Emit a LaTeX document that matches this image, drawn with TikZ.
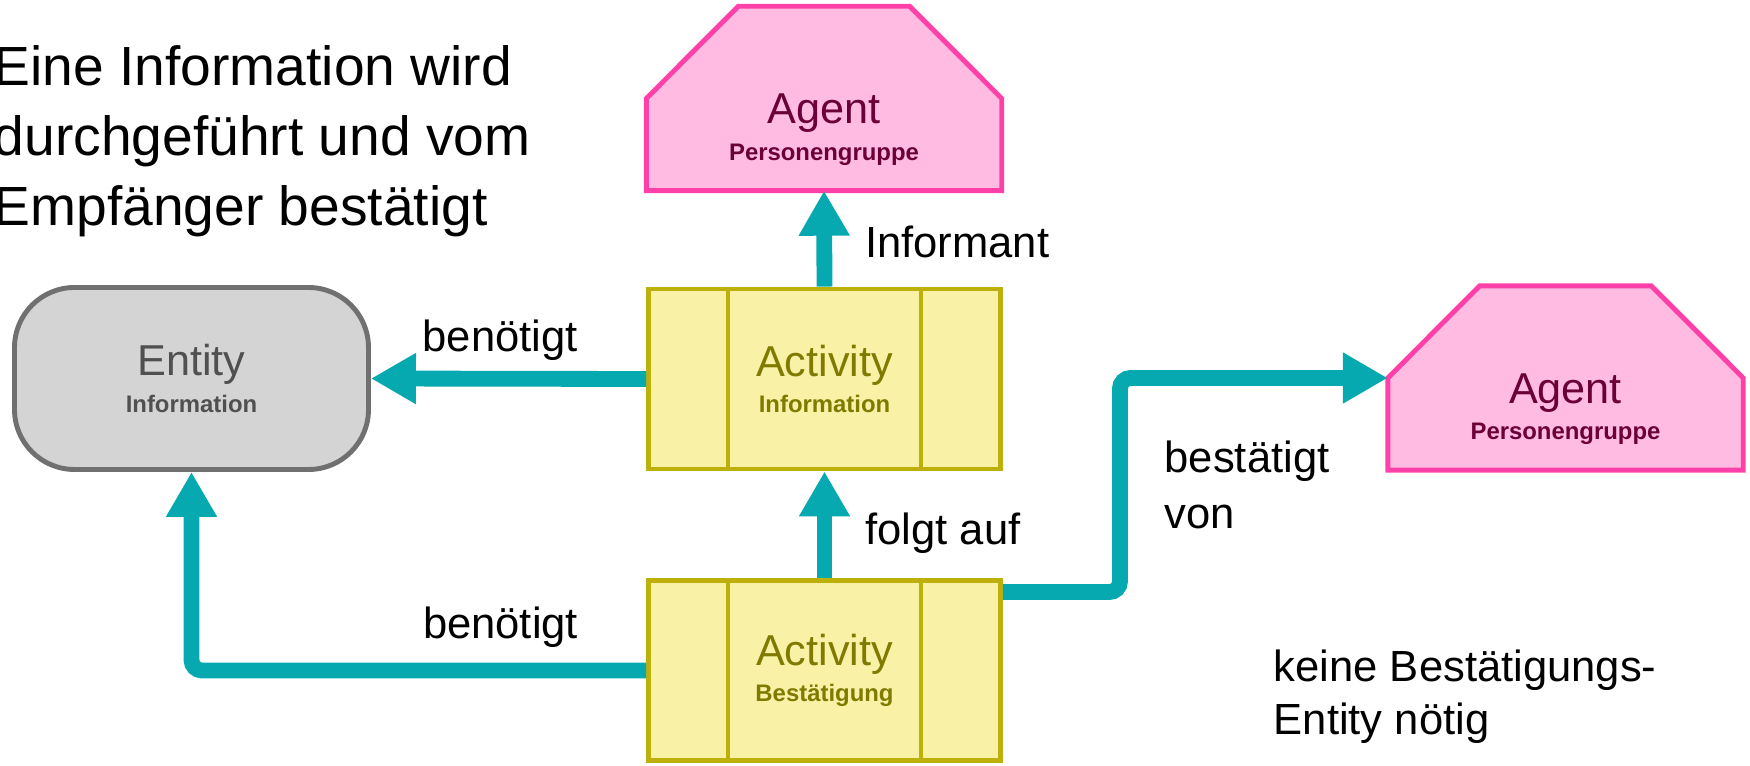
\documentclass[tikz,border=0pt]{standalone}
\usepackage{fontspec}
\setmainfont{Liberation Sans}
\usepackage{tikz}
\usetikzlibrary{arrows.meta, positioning, calc, backgrounds}

\definecolor{flowcol}{RGB}{7,169,176}
\definecolor{entityfill}{RGB}{212,212,212}
\definecolor{entityline}{RGB}{112,112,112}
\definecolor{entitytext}{RGB}{80,80,80}
\definecolor{actfill}{RGB}{249,241,166}
\definecolor{actline}{RGB}{190,176,10}
\definecolor{acttext}{RGB}{128,122,0}
\definecolor{agentfill}{RGB}{255,187,225}
\definecolor{agentline}{RGB}{255,64,168}
\definecolor{agentdark}{RGB}{107,0,56}

\newcommand{\boxsub}[1]{{\fontsize{6.8}{10.4}\selectfont\bfseries #1}}

\begin{document}
\begin{tikzpicture}[>={Triangle[width=0.48cm, length=0.45cm]},
  entity/.style={draw=entityline, fill=entityfill, line width=1.4pt, rounded corners=0.6cm,
    minimum width=3.54cm, minimum height=1.82cm, inner sep=0pt, align=center,
    text=entitytext, font=\fontsize{12.3}{10.4}\selectfont},
  activity/.style={draw=actline, fill=actfill, line width=1.4pt,
    minimum width=3.52cm, minimum height=1.80cm, inner sep=0pt, align=center,
    text=acttext, font=\fontsize{12.3}{10.4}\selectfont},
  agentbox/.style={minimum width=3.54cm, minimum height=1.83cm, inner sep=0pt},
  agentshape/.style={draw=agentline, fill=agentfill, line width=1.4pt},
  agentlabel/.style={inner sep=0pt, align=center, text=agentdark, font=\fontsize{12.3}{10.4}\selectfont},
  flow/.style={->, draw=flowcol, line width=4.5pt},
  rel/.style={inner sep=0pt, align=left, font=\fontsize{12.4}{15.9}\selectfont}]

  \useasboundingbox (0,0) rectangle (17.5,7.65);

  % Heading in the upper left corner
  \node[anchor=west, inner sep=0pt, align=left, font=\fontsize{15.7}{19.9}\selectfont] (title)
    at (-0.07,6.24) {Eine Information wird\\durchgeführt und vom\\Empfänger bestätigt};

  % Entity and the two activities
  \node[entity] (entity) at (1.915,3.865) {Entity\\\boxsub{Information}};
  \node[activity] (actInfo) at (8.245,3.86) {Activity\\\boxsub{Information}};
  \node[activity] (actConf) at (8.245,0.945) {Activity\\\boxsub{Bestätigung}};

  % Side bars of the activities
  \draw[actline, line width=1.4pt] ([xshift=-0.965cm]actInfo.north) -- ([xshift=-0.965cm]actInfo.south);
  \draw[actline, line width=1.4pt] ([xshift=0.965cm]actInfo.north) -- ([xshift=0.965cm]actInfo.south);
  \draw[actline, line width=1.4pt] ([xshift=-0.965cm]actConf.north) -- ([xshift=-0.965cm]actConf.south);
  \draw[actline, line width=1.4pt] ([xshift=0.965cm]actConf.north) -- ([xshift=0.965cm]actConf.south);

  % Agents: frame nodes, text, and the chamfered outline behind them
  \node[agentbox] (agentTop) at (8.24,6.665) {};
  \node[agentbox] (agentRight) at (15.655,3.87) {};
  \node[agentlabel] at ($(agentTop)+(0,-0.31)$) {Agent\\\boxsub{Personengruppe}};
  \node[agentlabel] at ($(agentRight)+(0,-0.31)$) {Agent\\\boxsub{Personengruppe}};
  \begin{pgfonlayer}{background}
    \draw[agentshape] (agentTop.south west) -- (agentTop.west) -- ([xshift=0.92cm]agentTop.north west)
      -- ([xshift=-0.92cm]agentTop.north east) -- (agentTop.east) -- (agentTop.south east) -- cycle;
    \draw[agentshape] (agentRight.south west) -- (agentRight.west) -- ([xshift=0.92cm]agentRight.north west)
      -- ([xshift=-0.92cm]agentRight.north east) -- (agentRight.east) -- (agentRight.south east) -- cycle;
  \end{pgfonlayer}

  % Relations
  \draw[flow] (actInfo.north) -- (agentTop.south) node[rel, pos=0.47, right=0.33cm] {Informant};
  \draw[flow] (actInfo.west) -- (entity.east) node[rel, pos=0.53, above=0.1cm] {benötigt};
  \draw[flow] (actConf.north) -- (actInfo.south) node[rel, pos=0.42, right=0.33cm] {folgt auf};
  \draw[flow, rounded corners=3pt] (actConf.west) -| (entity.south) node[rel, pos=0.16, above=0.15cm] {benötigt};
  \draw[flow, rounded corners=3pt] ([yshift=-0.14cm]actConf.north east) -- ++(1.17,0) |- (agentRight.west);

  % Free labels on the right
  \node[rel, anchor=west] (confLabel) at (11.64,2.80) {bestätigt\\von};
  \node[rel, anchor=west, font=\fontsize{12.4}{15.1}\selectfont] (note) at (12.73,0.685) {keine Bestätigungs-\\Entity nötig};

\end{tikzpicture}
\end{document}
